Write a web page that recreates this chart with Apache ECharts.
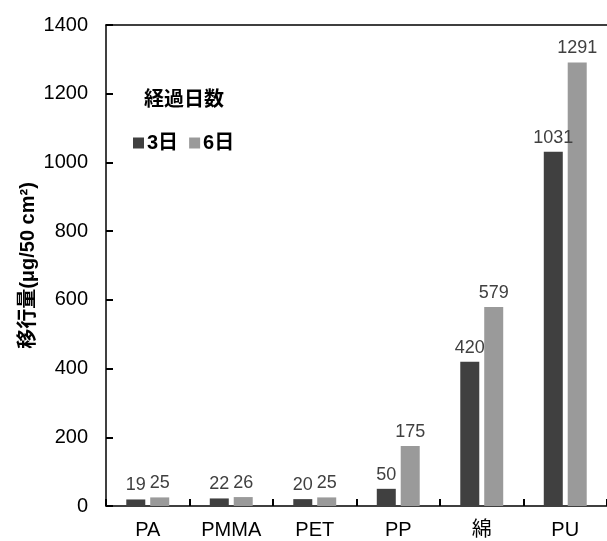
<!DOCTYPE html>
<html>
<head>
<meta charset="utf-8">
<script src="https://cdn.jsdelivr.net/npm/echarts@6/dist/echarts.min.js"></script>
<style>html,body{margin:0;padding:0;background:#fff}#c{width:607px;height:541px}</style>
</head>
<body>
<div id="c"></div>
<script>
const categories = ['PA', 'PMMA', 'PET', 'PP', '綿', 'PU'];
const day3 = [19, 22, 20, 50, 420, 1031];
const day6 = [25, 26, 25, 175, 579, 1291];
const seriesNames = ['3日', '6日'];
const legendTitle = '経過日数';
const yName = '移行量(μg/50 cm²)';
const yMin = 0, yMax = 1400, yInterval = 200;

const font = '"Liberation Sans", Arial, "Noto Sans CJK JP", sans-serif';
const chart = echarts.init(document.getElementById('c'));
chart.setOption({
  animation: false,
  backgroundColor: '#fff',
  textStyle: { fontFamily: font },
  title: {
    text: legendTitle, left: 139, top: 85,
    textStyle: { fontSize: 20, fontWeight: 'bold', color: '#000', fontFamily: font }
  },
  legend: {
    data: seriesNames, left: 128, top: 128, icon: 'rect',
    itemWidth: 11, itemHeight: 11, itemGap: 11,
    textStyle: { fontSize: 20, fontWeight: 'bold', color: '#000', fontFamily: font, padding: [0, 0, 0, -2] }
  },
  grid: { left: 106, top: 25, right: 0, bottom: 35, containLabel: false },
  xAxis: [{
    type: 'category', data: categories, position: 'bottom',
    axisLine: { show: true, lineStyle: { color: '#000', width: 1.5 } },
    axisTick: { show: true, inside: true, length: 7, interval: 0, alignWithLabel: false, lineStyle: { color: '#000', width: 2 } },
    axisLabel: { fontSize: 20, color: '#000', margin: 14, fontFamily: font }
  }, {
    type: 'category', data: categories, position: 'top',
    axisLine: { show: true, lineStyle: { color: '#000', width: 1.5 } },
    axisTick: { show: false }, axisLabel: { show: false }
  }],
  yAxis: {
    type: 'value', min: yMin, max: yMax, interval: yInterval,
    name: yName, nameLocation: 'middle', nameGap: 68, nameRotate: 90, nameMoveOverlap: false,
    nameTextStyle: { fontSize: 20, fontWeight: 'bold', color: '#000', fontFamily: font },
    axisLine: { show: true, lineStyle: { color: '#000', width: 1.5 } },
    axisTick: { show: true, inside: true, length: 7, lineStyle: { color: '#000', width: 2 } },
    axisLabel: { fontSize: 20, color: '#000', margin: 18, fontFamily: font, formatter: v => String(v) },
    splitLine: { show: false }
  },
  series: [{
    name: seriesNames[0], type: 'bar', data: day3, barWidth: 19, barGap: '26%',
    itemStyle: { color: '#404040' },
    label: { show: true, position: 'top', distance: 5, fontSize: 18, color: '#404040', fontFamily: font }
  }, {
    name: seriesNames[1], type: 'bar', data: day6, barWidth: 19,
    itemStyle: { color: '#9a9a9a' },
    label: { show: true, position: 'top', distance: 5, fontSize: 18, color: '#404040', fontFamily: font }
  }]
});
</script>
</body>
</html>
